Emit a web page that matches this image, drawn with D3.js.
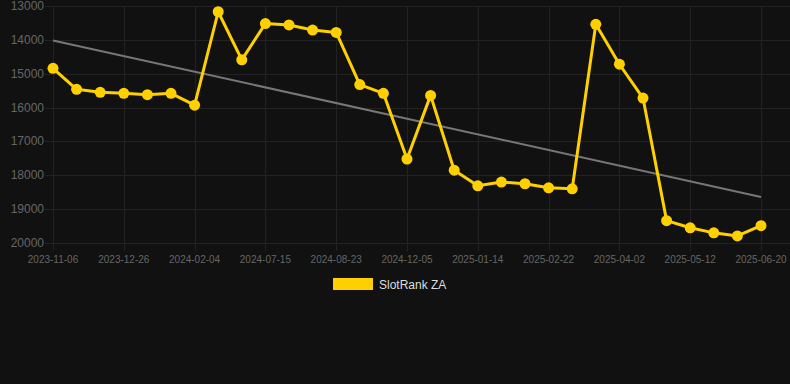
<!DOCTYPE html>
<html lang="en">
<head>
<meta charset="UTF-8">
<title>SlotRank ZA</title>
<script src="https://cdn.jsdelivr.net/npm/d3@7"></script>
<style>
    body { margin: 0; background: #111111; }
    svg { display: block; font-family: "Liberation Sans", Arial, sans-serif; }
</style>
</head>
<body>
<svg id="chart"></svg>
<script>
    // data
    var dates = ["2023-11-06","2023-11-23","2023-12-10","2023-12-26","2024-01-08","2024-01-21","2024-02-04",
        "2024-04-10","2024-06-05","2024-07-15","2024-07-28","2024-08-10","2024-08-23","2024-09-30",
        "2024-11-02","2024-12-05","2024-12-18","2025-01-01","2025-01-14","2025-01-27","2025-02-09",
        "2025-02-22","2025-03-07","2025-03-20","2025-04-02","2025-04-15","2025-04-28","2025-05-12",
        "2025-05-25","2025-06-07","2025-06-20"];
    var ranks = [14840,15460,15550,15580,15620,15580,15930,
        13170,14590,13520,13560,13710,13780,15320,
        15580,17520,15640,17850,18310,18200,18250,
        18370,18400,13540,14720,15720,19340,19550,
        19700,19790,19490];
    var yTicks = [13000,14000,15000,16000,17000,18000,19000,20000];
    var seriesName = "SlotRank ZA";

    var width = 790, height = 384;
    var svg = d3.select("#chart").attr("width", width).attr("height", height);
    svg.append("rect").attr("width", width).attr("height", height).attr("fill", "#111111");

    var x = d3.scalePoint().domain(dates).range([53, 761]);
    var y = d3.scaleLinear().domain([13000, 20000]).range([6, 243]);

    // grid
    var grid = svg.append("g");
    yTicks.forEach(function (t) {
        grid.append("line")
            .attr("x1", 45).attr("x2", 790)
            .attr("y1", Math.round(y(t)) + 0.5).attr("y2", Math.round(y(t)) + 0.5)
            .attr("stroke", "#222222");
    });
    var shown = dates.filter(function (d, i) { return i % 3 === 0; });
    shown.forEach(function (d) {
        grid.append("line")
            .attr("x1", Math.round(x(d)) + 0.5).attr("x2", Math.round(x(d)) + 0.5)
            .attr("y1", 6).attr("y2", 251)
            .attr("stroke", "#222222");
    });

    // y labels
    svg.append("g").selectAll("text").data(yTicks).enter().append("text")
        .attr("x", 44).attr("y", function (d) { return y(d) + 4; })
        .attr("text-anchor", "end")
        .attr("fill", "#666666")
        .attr("font-size", 12)
        .text(function (d) { return d; });

    // x labels
    svg.append("g").selectAll("text").data(shown).enter().append("text")
        .attr("x", function (d) { return x(d); }).attr("y", 263)
        .attr("text-anchor", "middle")
        .attr("fill", "#666666")
        .attr("font-size", 10)
        .text(function (d) { return d; });

    // trend (least squares over the series)
    var n = ranks.length, sx = 0, sy = 0, sxy = 0, sxx = 0;
    ranks.forEach(function (v, i) { sx += i; sy += v; sxy += i * v; sxx += i * i; });
    var slope = (n * sxy - sx * sy) / (n * sxx - sx * sx);
    var icpt = (sy - slope * sx) / n;
    svg.append("line")
        .attr("x1", x(dates[0])).attr("y1", y(icpt))
        .attr("x2", x(dates[n - 1])).attr("y2", y(icpt + slope * (n - 1)))
        .attr("stroke", "#777777").attr("stroke-width", 2);

    // series
    var line = d3.line()
        .x(function (d, i) { return x(dates[i]); })
        .y(function (d) { return y(d); });
    svg.append("path").datum(ranks)
        .attr("d", line)
        .attr("fill", "none")
        .attr("stroke", "#FFD000")
        .attr("stroke-width", 3)
        .attr("stroke-linejoin", "round");
    svg.append("g").selectAll("circle").data(ranks).enter().append("circle")
        .attr("cx", function (d, i) { return x(dates[i]); })
        .attr("cy", function (d) { return y(d); })
        .attr("r", 5.5)
        .attr("fill", "#FFD000");

    // legend
    var legend = svg.append("g");
    legend.append("rect").attr("x", 333).attr("y", 278).attr("width", 40).attr("height", 12)
        .attr("fill", "#FFD000");
    legend.append("text").attr("x", 379).attr("y", 289)
        .attr("fill", "#dddddd").attr("font-size", 12)
        .text(seriesName);
</script>
</body>
</html>
